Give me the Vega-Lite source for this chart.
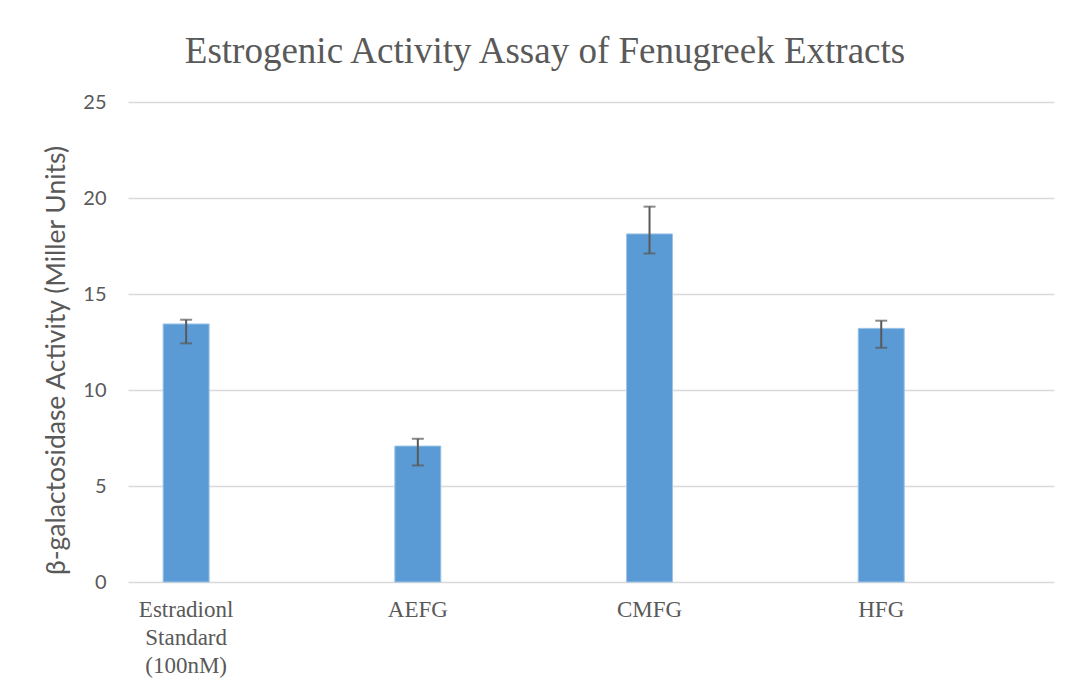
{
  "$schema": "https://vega.github.io/schema/vega-lite/v6.json",
  "autosize": "none",
  "width": 926,
  "height": 480,
  "padding": {"left": 128, "top": 102, "right": 17, "bottom": 110},
  "background": "white",
  "config": {"view": {"stroke": null}},
  "title": {
    "text": "Estrogenic Activity Assay of Fenugreek Extracts",
    "font": "Liberation Serif",
    "fontSize": 37,
    "fontWeight": "normal",
    "color": "#595959",
    "anchor": "middle",
    "frame": "group",
    "dx": -46,
    "offset": 21
  },
  "data": {
    "values": [
      {"group": "Estradionl\nStandard\n(100nM)", "activity": 13.44, "low": 12.43, "high": 13.66},
      {"group": "AEFG", "activity": 7.08, "low": 6.07, "high": 7.46},
      {"group": "CMFG", "activity": 18.13, "low": 17.11, "high": 19.55},
      {"group": "HFG", "activity": 13.21, "low": 12.2, "high": 13.61}
    ]
  },
  "encoding": {
    "x": {
      "field": "group",
      "type": "nominal",
      "sort": null,
      "scale": {"paddingInner": 0.8015, "paddingOuter": 0.399, "align": 0.19},
      "axis": {
        "title": null,
        "labelAngle": 0,
        "labelExpr": "split(datum.label, '\\n')",
        "labelFont": "Liberation Serif",
        "labelFontSize": 23,
        "labelColor": "#595959",
        "labelLineHeight": 28,
        "labelPadding": 16,
        "labelBaseline": "top",
        "ticks": false,
        "domain": false
      }
    }
  },
  "layer": [
    {
      "mark": {"type": "bar", "color": "#5B9BD5", "stroke": "#9DC3E6", "strokeWidth": 1},
      "encoding": {
        "y": {
          "field": "activity",
          "type": "quantitative",
          "scale": {"domain": [0, 25], "nice": false, "padding": 0, "zero": true},
          "axis": {
            "title": "β-galactosidase Activity (Miller Units)",
            "titleFont": "Lato",
            "titleFontSize": 26.5,
            "titleFontWeight": "normal",
            "titleColor": "#595959",
            "titlePadding": 12,
            "titleY": 258,
            "values": [0, 5, 10, 15, 20, 25],
            "labelFont": "Lato",
            "labelFontSize": 20,
            "labelColor": "#595959",
            "labelPadding": 22,
            "ticks": false,
            "domain": false,
            "gridColor": "#D9D9D9",
            "gridWidth": 1.5
          }
        }
      }
    },
    {
      "mark": {"type": "rule", "color": "#595959", "strokeWidth": 2},
      "encoding": {
        "y": {"field": "low", "type": "quantitative"},
        "y2": {"field": "high"}
      }
    },
    {
      "mark": {"type": "tick", "color": "#595959", "thickness": 2, "size": 12},
      "encoding": {"y": {"field": "low", "type": "quantitative"}}
    },
    {
      "mark": {"type": "tick", "color": "#595959", "thickness": 2, "size": 12},
      "encoding": {"y": {"field": "high", "type": "quantitative"}}
    }
  ]
}
